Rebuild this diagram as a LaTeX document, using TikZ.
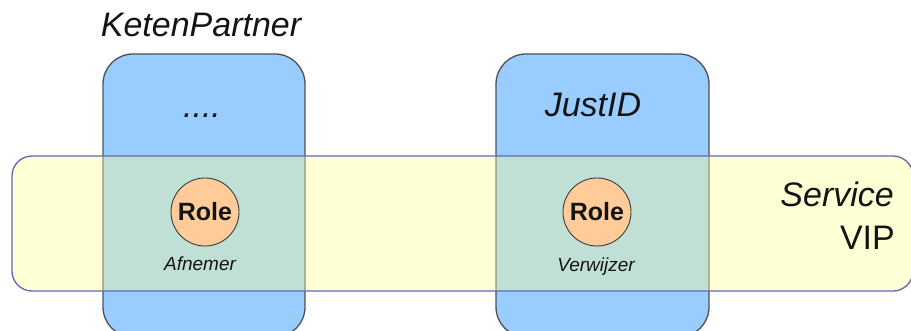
\documentclass[tikz,border=0pt]{standalone}
\usepackage{fontspec}
\setmainfont{Liberation Sans}
\definecolor{boxblue}{RGB}{153,204,255}
\definecolor{boxline}{RGB}{80,80,80}
\definecolor{bandfill}{RGB}{255,255,150}
\definecolor{bandline}{RGB}{100,100,185}
\definecolor{rolefill}{RGB}{255,204,153}
\definecolor{roleline}{RGB}{60,60,60}
\definecolor{txt}{RGB}{20,20,20}
\tikzset{
  partnerbox/.style={draw=boxline, line width=1.3pt, fill=boxblue, rectangle, rounded corners=30pt, inner sep=0pt, minimum width=#1, minimum height=283pt},
  bandbox/.style={draw=bandline, line width=1.3pt, fill=bandfill, fill opacity=0.4, draw opacity=1, rectangle, rounded corners=20pt, inner sep=0pt, minimum width=901pt, minimum height=135pt},
  rolecirc/.style={draw=roleline, line width=0.9pt, fill=rolefill, circle, inner sep=0pt, minimum size=68pt, text=txt, font=\fontsize{25}{30}\selectfont\bfseries},
  bigtext/.style={inner sep=0pt, anchor=base, text=txt, font=\fontsize{34}{38}\selectfont\itshape},
  bigup/.style={inner sep=0pt, anchor=base east, text=txt, font=\fontsize{34}{38}\selectfont},
  smalltext/.style={inner sep=0pt, anchor=base, text=txt, font=\fontsize{19}{22}\selectfont\itshape},
}
\begin{document}
\begin{tikzpicture}[x=1pt, y=-1pt]
\useasboundingbox (0,0) rectangle (911,331);
\clip (0,0) rectangle (911,331);
\node[partnerbox=202pt] (kp) at (204,195.5) {};
\node[partnerbox=213pt] (jid) at (602.5,195.5) {};
\node[bandbox] (band) at (462.5,223.5) {};
\node[rolecirc] (r1) at (205,212) {Role};
\node[rolecirc] (r2) at (597,212) {Role};
\node[smalltext] (af) at (200,271) {Afnemer};
\node[smalltext] (vw) at (596,272) {Verwijzer};
\node[bigtext] (kpt) at (201,37) {KetenPartner};
\node[bigtext] (dots) at (202,118) {....};
\node[bigtext] (jt) at (593,117) {JustID};
\node[bigtext, anchor=base east] (svc) at (894,207) {Service};
\node[bigup] (vip) at (895,250) {VIP};
\end{tikzpicture}
\end{document}
